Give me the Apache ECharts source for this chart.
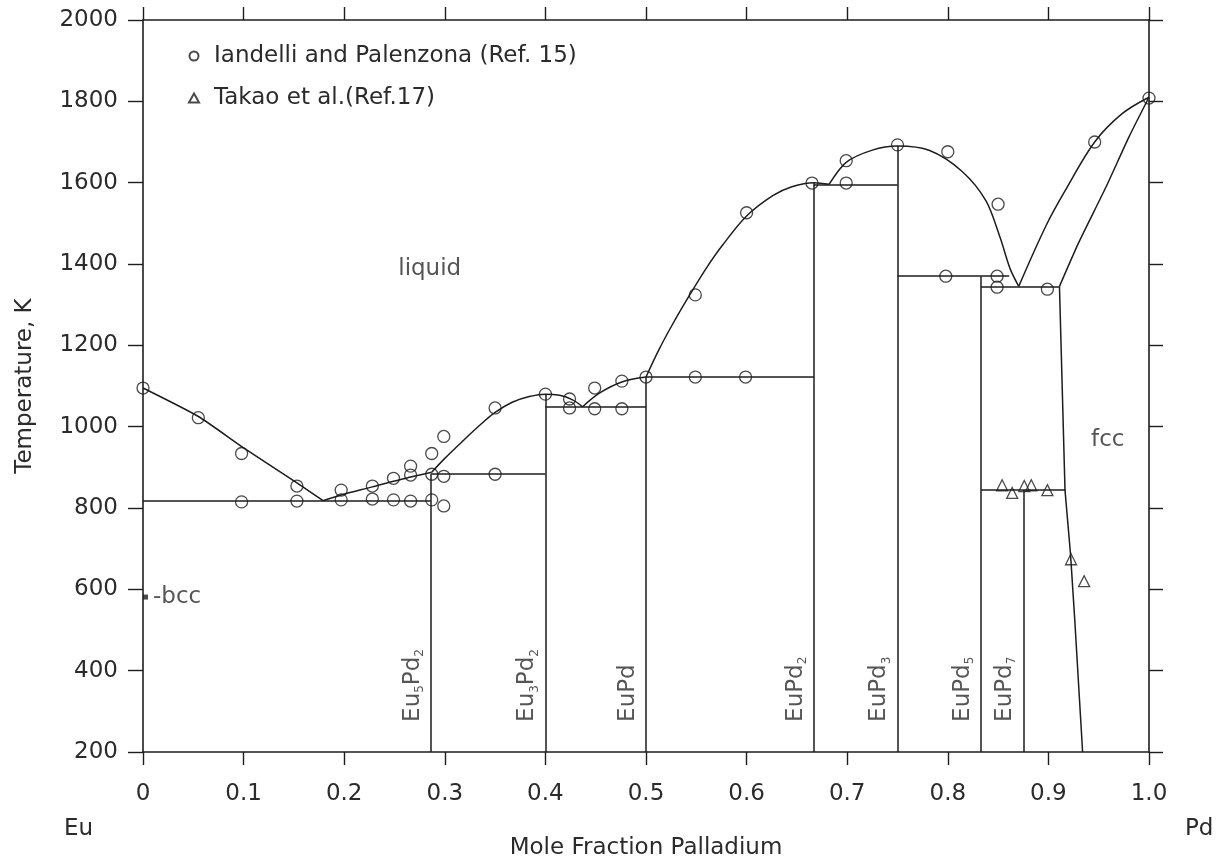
<!DOCTYPE html>
<html>
<head>
<meta charset="utf-8">
<script src="https://cdn.jsdelivr.net/npm/echarts@6/dist/echarts.min.js"></script>
<style>
  html, body { margin: 0; padding: 0; background: #fff; }
  #chart { width: 1227px; height: 865px; }
</style>
</head>
<body>
<div id="chart"></div>
<script>
// Eu–Pd phase diagram: temperature (K) against mole fraction of palladium.

const xTickLabels = ['0', '0.1', '0.2', '0.3', '0.4', '0.5', '0.6', '0.7', '0.8', '0.9', '1.0'];

// Measured points, [mole fraction Pd, T in K]
const iandelliName = 'Iandelli and Palenzona (Ref. 15)';
const iandelliPoints = [
  [0, 1095], [0.055, 1022], [0.098, 934], [0.098, 815], [0.153, 854], [0.153, 817],
  [0.197, 844], [0.197, 820], [0.228, 854], [0.228, 822], [0.249, 873], [0.249, 820],
  [0.266, 903], [0.266, 881], [0.266, 817], [0.287, 934], [0.287, 883], [0.287, 820],
  [0.299, 976], [0.299, 878], [0.299, 805], [0.350, 1046], [0.350, 883],
  [0.400, 1080], [0.424, 1068], [0.424, 1046], [0.449, 1095], [0.449, 1044],
  [0.476, 1112], [0.476, 1044], [0.500, 1122], [0.549, 1122], [0.599, 1122],
  [0.549, 1324], [0.600, 1526], [0.665, 1599], [0.699, 1599], [0.699, 1654],
  [0.750, 1693], [0.800, 1676], [0.798, 1370], [0.850, 1547], [0.849, 1370],
  [0.849, 1343], [0.899, 1338], [0.946, 1700], [1.0, 1808]
];

const takaoName = 'Takao et al.(Ref.17)';
const takaoPoints = [
  [0.854, 856], [0.864, 837], [0.876, 854], [0.883, 856], [0.899, 844],
  [0.9225, 674], [0.9355, 620]
];

// Liquidus branches between invariant points
const liquidusEu = [[0, 1095], [0.055, 1025], [0.1, 948], [0.153, 862], [0.179, 818]];
const liquidusEu5Pd2 = [[0.179, 818], [0.197, 832], [0.228, 852], [0.249, 866], [0.266, 876], [0.287, 888]];
const liquidusEu3Pd2 = [[0.287, 888], [0.30, 922], [0.318, 965], [0.335, 1004], [0.35, 1035],
  [0.367, 1060], [0.384, 1074], [0.40, 1080], [0.414, 1077], [0.427, 1066], [0.437, 1049]];
const liquidusEuPd = [[0.437, 1049], [0.454, 1083], [0.476, 1110], [0.5, 1122]];
const liquidusEuPd2 = [[0.5, 1122], [0.513, 1190], [0.526, 1250], [0.543, 1322], [0.56, 1390],
  [0.576, 1446], [0.6, 1518], [0.626, 1568], [0.645, 1590], [0.667, 1600], [0.682, 1596]];
const liquidusEuPd3 = [[0.682, 1596], [0.699, 1650], [0.725, 1680], [0.75, 1690], [0.782, 1679],
  [0.814, 1628], [0.838, 1555], [0.852, 1465], [0.862, 1388], [0.8705, 1345]];
const liquidusPd = [[0.8705, 1345], [0.898, 1496], [0.918, 1586], [0.946, 1700], [0.973, 1769], [1.0, 1810]];
const solidusPd = [[0.911, 1345], [0.93, 1452], [0.957, 1588], [0.98, 1712], [1.0, 1810]];
const solvusPd = [[0.911, 1345], [0.9165, 844], [0.922, 686], [0.926, 533], [0.934, 200]];

// Invariant (horizontal) lines
const invariantT = [818, 883, 1049, 1122, 1596, 1370, 1345, 844];
const invariantFrom = [0, 0.286, 0.4, 0.5, 0.667, 0.75, 0.833, 0.833];
const invariantTo = [0.286, 0.4, 0.5, 0.667, 0.75, 0.861, 0.911, 0.917];

// Intermediate compounds
const compoundLabels = ['Eu{s|5}Pd{s|2}', 'Eu{s|3}Pd{s|2}', 'EuPd', 'EuPd{s|2}', 'EuPd{s|3}', 'EuPd{s|5}', 'EuPd{s|7}'];
const compoundX = [0.286, 0.4, 0.5, 0.667, 0.75, 0.833, 0.875];
const compoundTop = [883, 1080, 1122, 1600, 1690, 1370, 844];

// Phase-field names
const phaseNames = ['liquid', 'fcc'];
const phaseX = [0.285, 0.959];
const phaseT = [1387, 968];
const bccPoint = [0.0025, 581];

const FONT = 'DejaVu Sans';
const INK = '#1d1d1d';
const TEXT = '#2b2b2b';
const FS = 23;
const T_MIN = 200;
const LABEL_BASE_T = 274;

// Outline triangle used as a legend icon (keeps its aspect inside the wide icon box)
const TRIANGLE_ICON = 'path://M5,0 L10,9 L0,9 Z';

const chart = echarts.init(document.getElementById('chart'), null, { renderer: 'canvas' });

const curveStyle = { color: INK, width: 1.5 };

function curve(data, smooth) {
  return {
    type: 'line', data: data, smooth: smooth, showSymbol: false, symbol: 'none',
    lineStyle: curveStyle, silent: true, z: 2, animation: false
  };
}

const segments = [];
invariantT.forEach((t, i) => segments.push({ coords: [[invariantFrom[i], t], [invariantTo[i], t]] }));
compoundX.forEach((x, i) => segments.push({ coords: [[x, compoundTop[i]], [x, T_MIN]] }));

const axisLineStyle = { color: INK, width: 1.6 };
const tickStyle = { color: INK, width: 1.4 };

const option = {
  backgroundColor: '#fff',
  animation: false,
  textStyle: { fontFamily: FONT, color: TEXT },
  grid: { left: 143, right: 78, top: 20, bottom: 105 },
  legend: {
    data: [
      { name: iandelliName, icon: 'circle' },
      { name: takaoName, icon: TRIANGLE_ICON }
    ],
    orient: 'vertical', left: 183, top: 38,
    itemWidth: 30, itemHeight: 9, itemGap: 16, symbolKeepAspect: true,
    textStyle: { fontFamily: FONT, fontSize: FS, color: TEXT, lineHeight: 26 },
    selectedMode: false
  },
  xAxis: [
    {
      type: 'value', min: 0, max: 1, interval: 0.1, position: 'bottom',
      axisLine: { onZero: false, lineStyle: axisLineStyle },
      axisTick: { inside: false, length: 13, lineStyle: tickStyle },
      axisLabel: {
        margin: 31, fontSize: FS, color: TEXT, fontFamily: FONT,
        formatter: v => xTickLabels[Math.round(v * 10)]
      },
      splitLine: { show: false },
      name: 'Mole Fraction Palladium', nameLocation: 'middle', nameGap: 85,
      nameTextStyle: { fontSize: FS, color: TEXT, fontFamily: FONT }
    },
    {
      type: 'value', min: 0, max: 1, interval: 0.1, position: 'top',
      axisLine: { onZero: false, lineStyle: axisLineStyle },
      axisTick: { inside: false, length: 13, lineStyle: tickStyle },
      axisLabel: { show: false }, splitLine: { show: false }
    }
  ],
  yAxis: [
    {
      type: 'value', min: 200, max: 2000, interval: 200, position: 'left',
      axisLine: { onZero: false, lineStyle: axisLineStyle },
      axisTick: { inside: false, length: 15, lineStyle: tickStyle },
      axisLabel: { margin: 25, fontSize: FS, color: TEXT, fontFamily: FONT, formatter: v => String(v) },
      splitLine: { show: false },
      name: 'Temperature, K', nameLocation: 'middle', nameGap: 106,
      nameTextStyle: { fontSize: FS, color: TEXT, fontFamily: FONT }
    },
    {
      type: 'value', min: 200, max: 2000, interval: 200, position: 'right',
      axisLine: { onZero: false, lineStyle: axisLineStyle },
      axisTick: { inside: false, length: 14, lineStyle: tickStyle },
      axisLabel: { show: false }, splitLine: { show: false }
    }
  ],
  graphic: [
    { type: 'text', left: 64, top: 818, style: { text: 'Eu', font: FS + 'px "' + FONT + '"', fill: TEXT } },
    { type: 'text', left: 1185, top: 818, style: { text: 'Pd', font: FS + 'px "' + FONT + '"', fill: TEXT } }
  ],
  series: [
    curve(liquidusEu, 0.2),
    curve(liquidusEu5Pd2, 0.3),
    curve(liquidusEu3Pd2, 0.35),
    curve(liquidusEuPd, 0.35),
    curve(liquidusEuPd2, 0.35),
    curve(liquidusEuPd3, 0.3),
    curve(liquidusPd, 0.35),
    curve(solidusPd, 0.2),
    curve(solvusPd, 0),
    {
      type: 'lines', coordinateSystem: 'cartesian2d', data: segments,
      lineStyle: { color: INK, width: 1.5, opacity: 1, curveness: 0 },
      silent: true, z: 2, animation: false
    },
    {
      name: iandelliName, type: 'scatter', data: iandelliPoints,
      symbol: 'circle', symbolSize: 12,
      itemStyle: { color: 'rgba(0,0,0,0)', borderColor: INK, borderWidth: 1.3 },
      z: 4, silent: true
    },
    {
      name: takaoName, type: 'scatter', data: takaoPoints,
      symbol: 'triangle', symbolSize: 11,
      itemStyle: { color: 'rgba(0,0,0,0)', borderColor: INK, borderWidth: 1.3 },
      z: 4, silent: true
    },
    {
      type: 'scatter', data: [bccPoint], symbol: 'rect', symbolSize: 5,
      itemStyle: { color: INK }, silent: true, z: 4,
      label: {
        show: true, position: 'right', distance: 5, formatter: '-bcc',
        fontSize: FS, color: TEXT, fontFamily: FONT, padding: [4, 0, 0, 0]
      }
    },
    {
      type: 'scatter', symbolSize: 1, itemStyle: { color: 'rgba(0,0,0,0)' }, silent: true, z: 5,
      data: phaseNames.map((n, i) => ({ name: n, value: [phaseX[i], phaseT[i]] })),
      label: {
        show: true, position: 'inside', formatter: p => p.name,
        fontSize: FS, color: TEXT, fontFamily: FONT
      }
    },
    {
      type: 'scatter', symbolSize: 1, itemStyle: { color: 'rgba(0,0,0,0)' }, silent: true, z: 5,
      data: compoundLabels.map((n, i) => ({ name: n, value: [compoundX[i], LABEL_BASE_T] })),
      label: {
        show: true, position: 'inside', rotate: 90, align: 'left', verticalAlign: 'middle',
        offset: [0, -18], formatter: p => p.name,
        fontSize: FS, color: TEXT, fontFamily: FONT, lineHeight: 26,
        rich: {
          s: { fontSize: 12, fontFamily: FONT, color: TEXT, verticalAlign: 'bottom', lineHeight: 12 }
        }
      }
    }
  ]
};

chart.setOption(option);
</script>
</body>
</html>
